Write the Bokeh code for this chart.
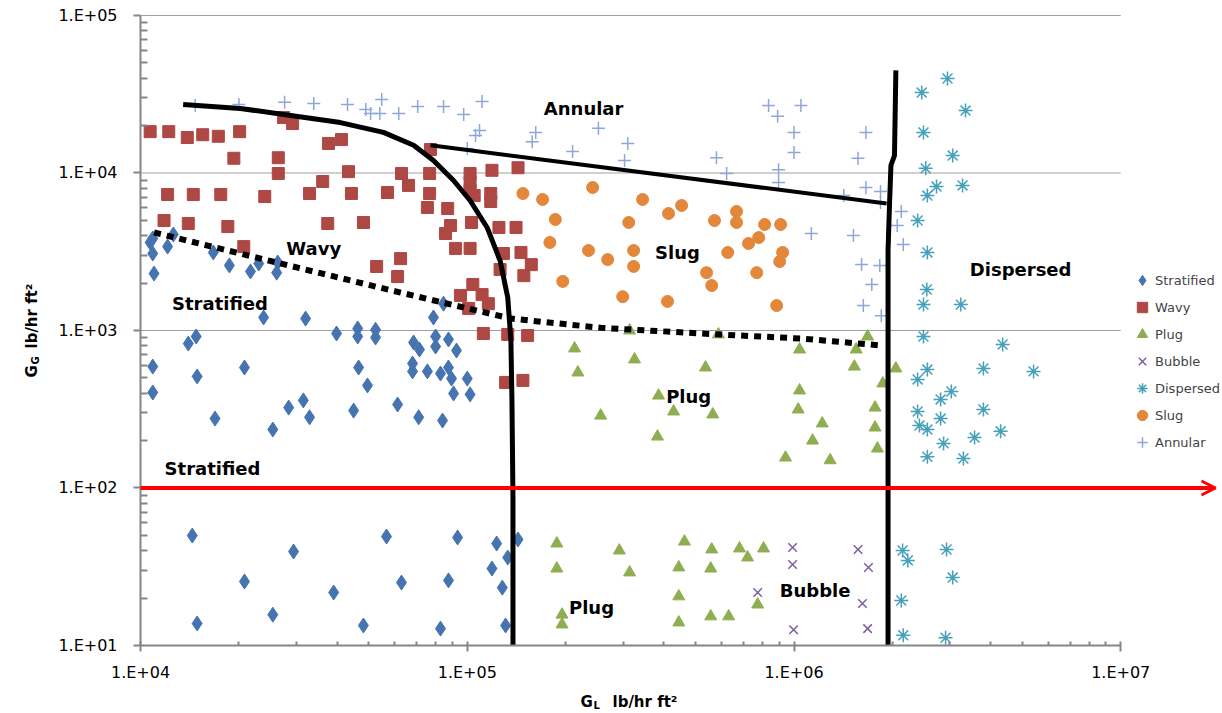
from bokeh.plotting import figure
from bokeh.models import Range1d, FixedTicker, CustomJSTickFormatter, Arrow, OpenHead, Label
from bokeh.embed import file_html
from bokeh.resources import INLINE
import math

# ---------------- data (G_L, G_G in lb/hr ft2) ----------------
stratified_gl = [1.07e4, 1.09e4, 1.09e4, 1.10e4, 1.21e4, 1.26e4, 1.67e4, 1.87e4, 2.17e4, 2.30e4,
                 2.63e4, 2.61e4, 2.38e4, 3.20e4, 7.88e4, 8.46e4, 1.48e4, 1.40e4, 1.09e4, 1.49e4,
                 1.09e4, 1.69e4, 2.08e4, 2.54e4, 2.84e4, 3.15e4, 3.29e4, 3.98e4, 4.62e4, 4.62e4,
                 5.24e4, 5.24e4, 4.65e4, 4.95e4, 4.49e4, 6.12e4, 6.85e4, 7.14e4, 8.00e4, 8.00e4,
                 8.76e4, 9.27e4, 6.80e4, 6.80e4, 7.55e4, 8.28e4, 8.76e4, 8.95e4, 1.00e5, 9.08e4,
                 1.02e5, 7.10e4, 8.40e4, 1.44e4, 1.49e4, 2.08e4, 2.54e4, 2.94e4, 3.90e4, 4.81e4,
                 5.66e4, 6.29e4, 8.28e4, 8.76e4, 9.34e4, 1.23e5, 1.19e5, 1.33e5, 1.28e5, 1.31e5, 1.43e5]
stratified_gg = [3620, 3840, 3080, 2300, 3410, 4070, 3130, 2590, 2370, 2660,
                 2700, 2330, 1210, 1190, 1210, 1480, 916, 826, 590, 511,
                 404, 276, 582, 235, 324, 360, 281, 957, 1030, 916,
                 1010, 903, 582, 448, 310, 339, 840, 757, 916, 791,
                 877, 746, 617, 550, 550, 533, 582, 495, 495, 398,
                 393, 281, 268, 49.9, 13.8, 25.5, 15.7, 39.5, 21.7, 13.4,
                 49.2, 25.1, 12.8, 25.9, 48.5, 44.4, 30.8, 36.2, 23.3, 13.4, 47.1]

wavy_gl = [1.07e4, 1.22e4, 1.39e4, 1.55e4, 1.73e4, 2.01e4, 1.93e4, 2.64e4, 2.64e4, 2.74e4,
           2.92e4, 3.76e4, 4.12e4, 4.33e4, 3.61e4, 3.29e4, 4.42e4, 5.70e4, 6.29e4, 6.61e4,
           7.72e4, 7.67e4, 7.67e4, 7.55e4, 8.71e4, 8.89e4, 8.58e4, 1.03e5, 9.21e4, 1.02e5,
           1.02e5, 1.02e5, 1.02e5, 1.05e5, 1.19e5, 1.18e5, 1.18e5, 1.43e5, 1.25e5, 1.41e5,
           1.29e5, 1.46e5, 1.26e5, 1.49e5, 1.57e5, 1.21e4, 1.45e4, 1.76e4, 2.40e4, 1.18e4,
           1.40e4, 1.85e4, 2.07e4, 3.74e4, 4.81e4, 5.28e4, 6.25e4, 6.12e4, 1.04e5, 9.53e4,
           1.11e5, 1.01e5, 1.16e5, 1.12e5, 1.33e5, 1.53e5, 1.31e5, 1.48e5]
wavy_gg = [18300, 18300, 16800, 17500, 17100, 18300, 12400, 12500, 9930, 22500,
           20600, 15400, 16300, 10200, 8830, 7410, 7410, 7520, 9930, 8340,
           14100, 9930, 7410, 6040, 5950, 4640, 4130, 4850, 3320, 3320,
           9930, 8710, 7740, 7190, 10400, 7410, 6590, 10800, 4510, 4510,
           3080, 3130, 2440, 2230, 2620, 7300, 7300, 7300, 7090, 4990,
           4780, 4570, 3410, 4780, 4850, 2550, 2860, 2200, 1960, 1670,
           1690, 1380, 1480, 957, 944, 929, 468, 482]

plug_gl = [3.14e5, 5.87e5, 2.13e5, 3.25e5, 2.18e5, 5.36e5, 3.85e5, 4.28e5, 5.64e5, 2.56e5,
           3.82e5, 1.04e6, 1.68e6, 1.55e6, 1.53e6, 1.04e6, 1.03e6, 1.22e6, 1.14e6, 9.42e5,
           1.29e6, 1.87e6, 1.77e6, 1.77e6, 1.80e6, 2.05e6, 1.88e5, 1.88e5, 2.92e5, 3.14e5,
           4.62e5, 4.44e5, 5.60e5, 5.56e5, 6.81e5, 7.21e5, 8.07e5, 4.44e5, 7.74e5, 5.56e5,
           6.31e5, 4.44e5, 1.95e5, 1.95e5]
plug_gg = [1000, 944, 769, 655, 541, 582, 386, 306, 293, 288,
           212, 757, 916, 757, 590, 416, 315, 257, 200, 156,
           150, 461, 324, 242, 178, 574, 44.4, 30.8, 40.1, 29.1,
           45.7, 31.3, 40.7, 30.8, 41.3, 36.2, 41.3, 20.5, 18.2, 15.3,
           15.3, 14.0, 15.7, 13.6]

bubble_gl = [9.90e5, 9.90e5, 7.74e5, 9.97e5, 1.57e6, 1.69e6, 1.62e6, 1.68e6]
bubble_gg = [41.9, 32.7, 21.7, 12.6, 40.7, 31.3, 18.5, 12.8]

dispersed_gl = [2.95e6, 2.46e6, 3.35e6, 2.49e6, 3.06e6, 2.53e6, 2.73e6, 3.28e6, 2.56e6, 2.39e6,
                2.56e6, 2.55e6, 2.49e6, 3.24e6, 2.49e6, 4.35e6, 2.56e6, 3.80e6, 5.41e6, 2.39e6,
                2.81e6, 3.03e6, 2.39e6, 2.81e6, 3.80e6, 2.42e6, 2.56e6, 2.87e6, 3.57e6, 4.29e6,
                2.56e6, 3.30e6, 2.15e6, 2.93e6, 2.23e6, 3.06e6, 2.13e6, 2.16e6, 2.91e6]
dispersed_gg = [39800, 32400, 24900, 18100, 12900, 10700, 8200, 8340, 7190, 4990,
                3130, 1820, 1460, 1460, 916, 815, 565, 574, 550, 489,
                365, 410, 306, 276, 315, 249, 235, 192, 209, 229,
                158, 154, 40.1, 40.7, 34.7, 27.0, 19.3, 11.6, 11.2]

slug_gl = [1.48e5, 1.70e5, 2.42e5, 1.86e5, 1.79e5, 2.35e5, 2.69e5, 1.96e5, 3.12e5, 3.44e5,
           4.13e5, 4.53e5, 3.23e5, 3.23e5, 2.99e5, 4.10e5, 5.71e5, 6.67e5, 6.67e5, 8.13e5,
           9.10e5, 7.80e5, 7.26e5, 6.27e5, 9.23e5, 9.04e5, 5.40e5, 5.60e5, 7.69e5, 8.85e5]
slug_gg = [7410, 6790, 8090, 5070, 3620, 3220, 2820, 2050, 4850, 6790,
           5530, 6220, 3220, 2550, 1640, 1530, 4990, 5700, 4850, 4710,
           4710, 3890, 3570, 3130, 3130, 2740, 2330, 1930, 2330, 1440]

annular_gl = [1.47e4, 2.00e4, 2.76e4, 3.39e4, 4.30e4, 4.89e4, 5.06e4, 5.47e4, 5.40e4, 6.17e4,
              7.05e4, 8.46e4, 9.75e4, 1.11e5, 1.09e5, 1.06e5, 1.00e5, 1.62e5, 1.58e5, 2.10e5,
              2.52e5, 3.10e5, 3.03e5, 5.79e5, 6.22e5, 8.36e5, 8.91e5, 1.05e6, 1.00e6, 1.00e6,
              8.97e5, 8.97e5, 1.13e6, 1.66e6, 1.57e6, 1.66e6, 1.84e6, 1.84e6, 1.42e6, 2.13e6,
              2.07e6, 1.52e6, 2.16e6, 1.61e6, 1.83e6, 1.73e6, 1.63e6, 1.85e6]
annular_gg = [26800, 27200, 28100, 27600, 27200, 25300, 23900, 29300, 23900, 23900,
              26400, 26400, 23500, 28400, 18600, 17300, 14300, 18100, 15800, 13700,
              19200, 15400, 12000, 12500, 9930, 26800, 22900, 26800, 18100, 13500,
              10500, 8710, 4130, 18100, 12400, 8090, 7640, 6500, 7190, 5700,
              4640, 4010, 3520, 2620, 2590, 1960, 1440, 1240]

# regime boundaries
wavy_annular_gl = [1.35e4, 2.02e4, 2.88e4, 4.09e4, 5.54e4, 6.85e4, 7.88e4, 9.08e4, 1.02e5, 1.15e5,
                   1.26e5, 1.33e5, 1.36e5, 1.37e5, 1.38e5, 1.38e5]
wavy_annular_gg = [27200, 25700, 23200, 20900, 18100, 15000, 12000, 8960, 6690, 4510,
                   2780, 1620, 865, 360, 83.3, 10]
annular_slug_gl = [7.72e4, 1.92e6]
annular_slug_gg = [15000, 6400]
dispersed_gl_line = [1.94e6, 1.94e6, 1.96e6, 1.98e6, 2.03e6, 2.05e6]
dispersed_gg_line = [10, 3220, 6220, 11200, 12900, 44800]
strat_wavy_gl = [1.10e4, 3.09e4, 6.25e4, 1.10e5, 1.36e5, 2.56e5, 5.18e5, 1.05e6, 1.84e6]
strat_wavy_gg = [4190, 2480, 1740, 1320, 1190, 1040, 957, 889, 804]
arrow_gl = [1e4, 1.95e7]
arrow_gg = 100

x_major = [1e4, 1e5, 1e6, 1e7]
y_major = [1e1, 1e2, 1e3, 1e4, 1e5]
x_minor = [m * 10 ** k for k in (4, 5, 6) for m in range(2, 10)]
y_minor = [m * 10 ** k for k in (1, 2, 3, 4) for m in range(2, 10)]

FONT = "DejaVu Sans"
AXIS_GRAY = "#868686"
W, H = 1220, 712

# the frame fills the whole canvas; the axes are pinned at 1e4 / 1e1
p = figure(frame_width=W, frame_height=H, x_axis_type="log", y_axis_type="log",
           x_range=Range1d(3727, 2.02e7), y_range=Range1d(3.755, 1.245e5),
           output_backend="svg", toolbar_location=None,
           min_border_left=0, min_border_right=0, min_border_top=0, min_border_bottom=0)
p.outline_line_color = None
p.xgrid.visible = False
p.ygrid.visible = False
p.background_fill_color = "white"
p.border_fill_color = "white"

# horizontal gridlines
p.segment(x0=[x_major[0]] * 4, x1=[x_major[-1]] * 4, y0=y_major[1:], y1=y_major[1:],
          line_color="#a0a0a0", line_width=1)

fmt = CustomJSTickFormatter(code="""
const e = Math.round(Math.log10(tick));
return "1.E+" + (e < 10 ? "0" : "") + e;
""")

for ax, ticks, minor, bnds, loc in ((p.xaxis[0], x_major, x_minor, (1e4, 1e7), y_major[0]),
                                    (p.yaxis[0], y_major, y_minor, (10, 1e5), x_major[0])):
    ax.fixed_location = loc
    ax.ticker = FixedTicker(ticks=ticks, minor_ticks=minor)
    ax.formatter = fmt
    ax.bounds = bnds
    ax.axis_line_color = AXIS_GRAY
    ax.axis_line_width = 2
    ax.major_tick_line_color = AXIS_GRAY
    ax.major_tick_line_width = 2
    ax.minor_tick_line_color = AXIS_GRAY
    ax.minor_tick_line_width = 2
    ax.major_label_text_font = FONT
    ax.major_label_text_font_size = "16px"
    ax.major_label_text_color = "black"

p.xaxis.major_tick_in = 4
p.xaxis.major_tick_out = 6
p.xaxis.minor_tick_in = 4
p.xaxis.minor_tick_out = 0
p.xaxis.major_label_standoff = 12
p.yaxis.major_tick_in = 0
p.yaxis.major_tick_out = 7
p.yaxis.minor_tick_in = 7
p.yaxis.minor_tick_out = 0
p.yaxis.major_label_standoff = 16

# series
p.scatter(stratified_gl, stratified_gg, marker="diamond", size=15, fill_color="#4674B0",
          line_color="#4674B0", legend_label="Stratified")
p.scatter(wavy_gl, wavy_gg, marker="square", size=12, fill_color="#AE4844",
          line_color="#AE4844", legend_label="Wavy")
p.scatter(plug_gl, plug_gg, marker="triangle", size=12, fill_color="#8FAE52",
          line_color="#8FAE52", legend_label="Plug")
p.scatter(bubble_gl, bubble_gg, marker="x", size=12, line_color="#7B5E9E",
          line_width=1.5, legend_label="Bubble")
p.scatter(dispersed_gl, dispersed_gg, marker="asterisk", size=14, line_color="#45A0BA",
          line_width=1.5, legend_label="Dispersed")
p.scatter(slug_gl, slug_gg, marker="circle", size=12, fill_color="#E3873B",
          line_color="#E3873B", legend_label="Slug")
p.scatter(annular_gl, annular_gg, marker="cross", size=13, line_color="#8CA7D8",
          line_width=1.5, legend_label="Annular")

# boundaries
p.line(wavy_annular_gl, wavy_annular_gg, line_color="black", line_width=5, line_join="round")
p.line(annular_slug_gl, annular_slug_gg, line_color="black", line_width=4)
p.line(dispersed_gl_line, dispersed_gg_line, line_color="black", line_width=5, line_join="round")
p.line(strat_wavy_gl, strat_wavy_gg, line_color="black", line_width=6, line_dash="7 6")

p.add_layout(Arrow(x_start=arrow_gl[0], y_start=arrow_gg, x_end=arrow_gl[1], y_end=arrow_gg,
                   line_color="#FF0000", line_width=4,
                   end=OpenHead(size=14, line_color="#FF0000", line_width=3)))

# region labels
regions = [("Annular", 2.27e5, 2.57e4), ("Wavy", 3.39e4, 3320), ("Stratified", 1.75e4, 1480),
           ("Slug", 4.40e5, 3130), ("Dispersed", 4.94e6, 2440), ("Plug", 4.76e5, 381),
           ("Stratified", 1.66e4, 133), ("Plug", 2.40e5, 17.4), ("Bubble", 1.16e6, 22.3)]
for txt, gx, gy in regions:
    p.add_layout(Label(x=gx, y=gy, text=txt, text_align="center", text_baseline="middle",
                       text_font=FONT, text_font_style="bold", text_font_size="18px",
                       text_color="black"))

# axis titles with subscripts (screen units, origin at the bottom-left of the canvas)
def title_part(x, y, text, size, angle=0.0):
    p.add_layout(Label(x=x, y=y, x_units="screen", y_units="screen", text=text, angle=angle,
                       text_align="left", text_baseline="alphabetic",
                       text_font=FONT, text_font_style="bold",
                       text_font_size=size, text_color="black"))

title_part(580, 11, "G", "15px")
title_part(593, 7, "L", "10px")
title_part(612, 11, "lb/hr ft²", "15px")
title_part(31, 335, "G", "15px", math.pi / 2)
title_part(35, 348, "G", "10px", math.pi / 2)
title_part(31, 364, "lb/hr ft²", "15px", math.pi / 2)

leg = p.legend[0]
leg.location = (1129, 257)
leg.background_fill_alpha = 0
leg.border_line_color = None
leg.glyph_width = 26
leg.glyph_height = 26
leg.label_height = 26
leg.spacing = 1
leg.padding = 0
leg.margin = 0
leg.label_standoff = 0
leg.label_text_font = FONT
leg.label_text_font_size = "13px"

open("out.html", "w").write(file_html(p, INLINE))
